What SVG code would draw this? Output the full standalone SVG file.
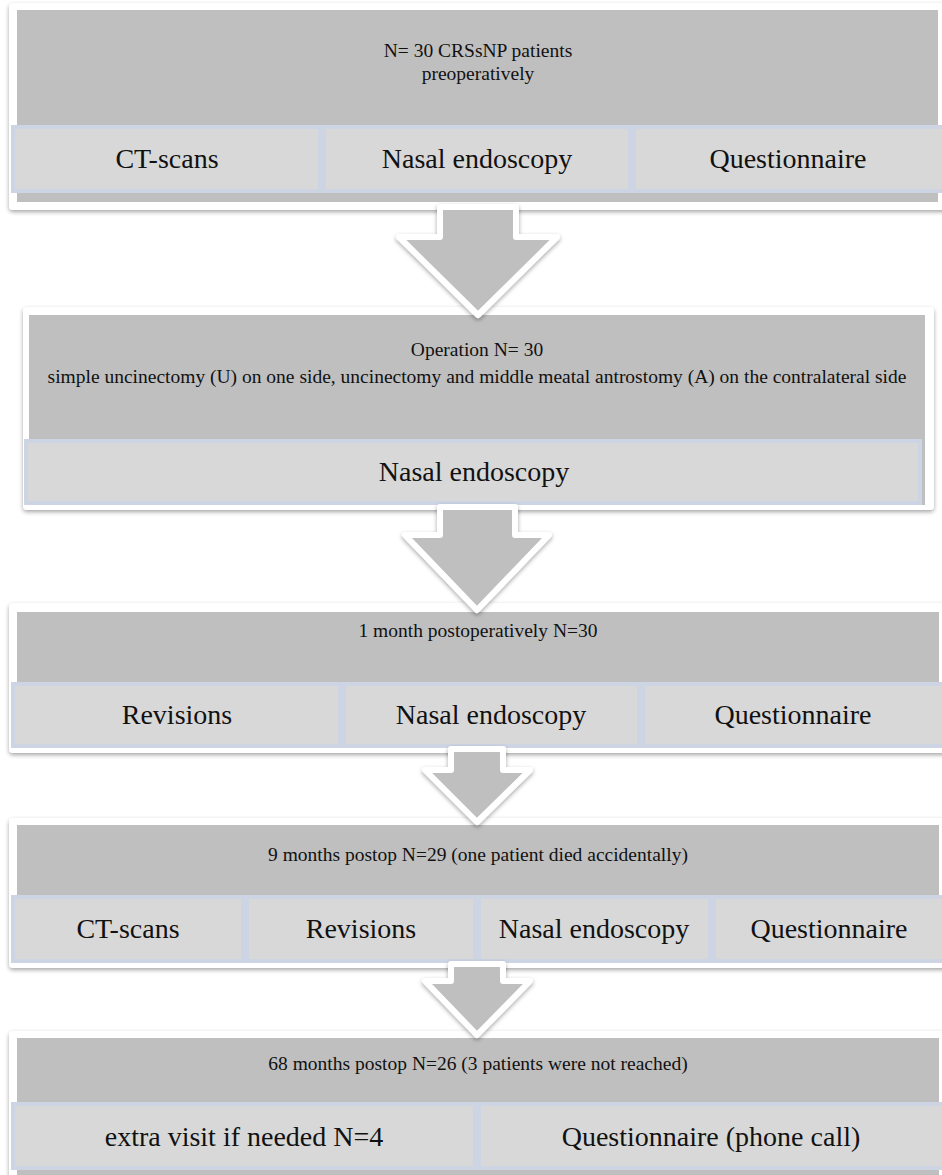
<svg xmlns="http://www.w3.org/2000/svg" width="942" height="1175" viewBox="0 0 942 1175">
<defs>
<filter id="sh" x="-5%" y="-10%" width="110%" height="125%">
<feDropShadow dx="0" dy="2" stdDeviation="2" flood-color="#000" flood-opacity="0.35"/>
</filter>
<filter id="ash" x="-20%" y="-20%" width="140%" height="140%">
<feDropShadow dx="0" dy="2" stdDeviation="2" flood-color="#000" flood-opacity="0.35"/>
</filter>
<style>
.outer{fill:#ffffff;}
.grey{fill:#bfbfbf;}
.cell{fill:#d8d8d8;stroke:#cdd5e5;stroke-width:4;}
.title{font-family:"Liberation Serif","Times New Roman",serif;font-size:19.5px;fill:#111;text-anchor:middle;}
.lab{font-family:"Liberation Serif","Times New Roman",serif;font-size:28px;fill:#111;text-anchor:middle;}
.arrow{fill:#bfbfbf;stroke:#ffffff;stroke-width:6;stroke-linejoin:round;}
</style>
</defs>
<rect width="942" height="1175" fill="#ffffff"/>

<g id="node1">
<rect class="outer" x="9" y="3" width="945" height="207" rx="4" filter="url(#sh)"/>
<rect class="grey" x="17" y="10" width="921" height="192"/>
<rect class="cell" x="13" y="127" width="307" height="64"/>
<rect class="cell" x="324" y="127" width="306" height="64"/>
<rect class="cell" x="634" y="127" width="310" height="64"/>
<text class="title" x="478" y="57">N= 30 CRSsNP patients</text>
<text class="title" x="478" y="80">preoperatively</text>
<text class="lab" x="167" y="168">CT-scans</text>
<text class="lab" x="477" y="168">Nasal endoscopy</text>
<text class="lab" x="788" y="168">Questionnaire</text>
</g>

<g id="node2">
<rect class="outer" x="23" y="307" width="911" height="203" rx="4" filter="url(#sh)"/>
<rect class="grey" x="29" y="315" width="896" height="190"/>
<rect class="cell" x="26" y="441" width="894" height="62"/>
<text class="title" x="477" y="356">Operation N= 30</text>
<text class="title" x="477" y="383">simple uncinectomy (U) on one side, uncinectomy and middle meatal antrostomy (A) on the contralateral side</text>
<text class="lab" x="474" y="481">Nasal endoscopy</text>
</g>

<g id="node3">
<rect class="outer" x="9" y="603" width="945" height="150" rx="4" filter="url(#sh)"/>
<rect class="grey" x="17" y="612" width="922" height="134"/>
<rect class="cell" x="13" y="684" width="327" height="62"/>
<rect class="cell" x="344" y="684" width="295" height="62"/>
<rect class="cell" x="643" y="684" width="301" height="62"/>
<text class="title" x="478" y="637">1 month postoperatively N=30</text>
<text class="lab" x="177" y="724">Revisions</text>
<text class="lab" x="491" y="724">Nasal endoscopy</text>
<text class="lab" x="793" y="724">Questionnaire</text>
</g>

<g id="node4">
<rect class="outer" x="9" y="818" width="945" height="150" rx="4" filter="url(#sh)"/>
<rect class="grey" x="17" y="825" width="922" height="136"/>
<rect class="cell" x="13" y="897" width="230" height="64"/>
<rect class="cell" x="247" y="897" width="228" height="64"/>
<rect class="cell" x="479" y="897" width="231" height="64"/>
<rect class="cell" x="714" y="897" width="230" height="64"/>
<text class="title" x="478" y="861">9 months postop N=29 (one patient died accidentally)</text>
<text class="lab" x="128" y="938">CT-scans</text>
<text class="lab" x="361" y="938">Revisions</text>
<text class="lab" x="594" y="938">Nasal endoscopy</text>
<text class="lab" x="829" y="938">Questionnaire</text>
</g>

<g id="node5">
<rect class="outer" x="9" y="1031" width="945" height="160" rx="4" filter="url(#sh)"/>
<rect class="grey" x="17" y="1038" width="922" height="140"/>
<rect class="cell" x="13" y="1104" width="462" height="64"/>
<rect class="cell" x="479" y="1104" width="465" height="64"/>
<text class="title" x="478" y="1070">68 months postop N=26 (3 patients were not reached)</text>
<text class="lab" x="244" y="1146">extra visit if needed N=4</text>
<text class="lab" x="711" y="1146">Questionnaire (phone call)</text>
</g>

<g id="connectors">
<path class="arrow" filter="url(#ash)" d="M440,207 L516,207 L516,237 L557,237 L478,315 L399,237 L440,237 Z"/>
<path class="arrow" filter="url(#ash)" d="M440,507 L515,507 L515,535 L549,535 L477,610 L405,535 L440,535 Z"/>
<path class="arrow" filter="url(#ash)" d="M451,749 L503,749 L503,770 L530,770 L477,822 L425,770 L451,770 Z"/>
<path class="arrow" filter="url(#ash)" d="M451,964 L503,964 L503,981 L530,981 L477,1035 L425,981 L451,981 Z"/>
</g>
</svg>
